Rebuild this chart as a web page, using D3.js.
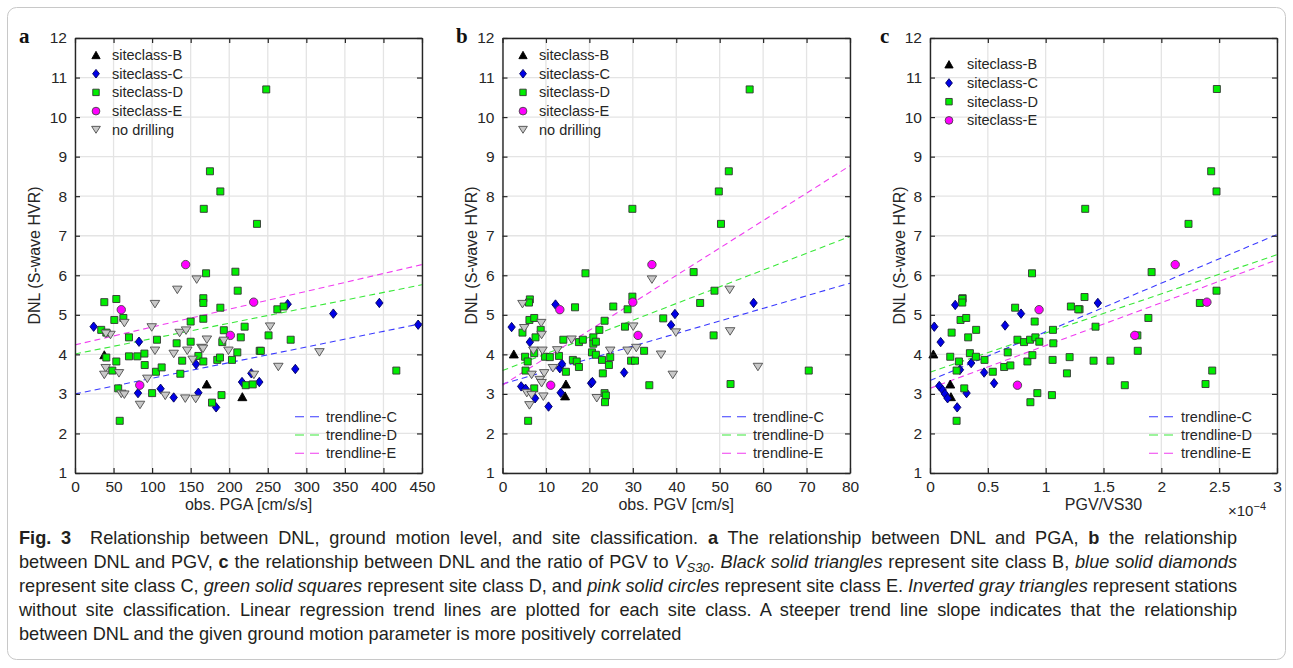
<!DOCTYPE html>
<html><head><meta charset="utf-8">
<script src="https://cdn.jsdelivr.net/npm/d3@7"></script>
<style>body{margin:0;background:#fff} svg{display:block}</style>
</head><body><svg id="chart" width="1293" height="668"></svg>
<script>
// ---------------- DATA ----------------
const yTickValues = [1,2,3,4,5,6,7,8,9,10,11,12];
const pgaTicks = [0,50,100,150,200,250,300,350,400,450];
const pgvTicks = [0,10,20,30,40,50,60,70,80];
const ratioTicks = [0,0.5,1,1.5,2,2.5,3];   // x 1e-4

const legendLabels = ["siteclass-B","siteclass-C","siteclass-D","siteclass-E","no drilling"];
const trendLabels = ["trendline-C","trendline-D","trendline-E"];

// panel a : PGA [cm/s/s] vs DNL
const pgaB = [[38,3.99],[170.8,3.25],[217,2.93]];
const pgaC = [[24.2,4.70],[83,4.32],[81.7,3.02],[111,3.13],[128,2.91],[157,3.75],[160,3.03],[183,2.66],[216.6,3.30],[228.7,3.52],[239,3.30],[275.8,5.27],[285.7,3.63],[335,5.03],[394.7,5.30],[445,4.75]];
const pgaD = [[248,10.7],[175,8.63],[188.5,8.12],[167,7.68],[236,7.30],[170,6.05],[208,6.09],[211,5.61],[38,5.32],[53.6,5.40],[51,4.87],[62.7,4.92],[34,4.62],[40.6,4.55],[70,4.43],[40.6,3.92],[53.6,3.82],[48.4,3.59],[56,3.14],[58,2.32],[70,3.95],[80.8,3.95],[90,4.02],[90.4,3.73],[106.3,4.37],[100,3.02],[105,3.56],[112.4,3.67],[131.8,4.28],[136.6,3.51],[139,3.84],[150,4.83],[150,4.32],[160,3.96],[166.4,3.82],[166.4,5.42],[166.4,5.30],[166.4,4.90],[177.7,2.78],[190,2.97],[188.5,5.18],[193,4.61],[191,4.31],[184.5,3.86],[188,3.92],[210.5,4.05],[203.6,3.86],[215,4.43],[220,4.70],[239.5,4.09],[221.4,3.22],[230.5,3.24],[262.4,5.14],[270.6,5.21],[251,4.48],[279.7,4.37],[241,4.09],[416.7,3.59]];
const pgaE = [[143.5,6.27],[60,5.13],[84,3.22],[201.5,4.48],[231.7,5.32]];
const pgaN = [[157.8,5.89],[132.7,5.63],[64,4.79],[46,4.49],[40,4.52],[39.8,3.65],[38,3.48],[57,3.52],[60,3.0],[64,2.98],[103.7,4.09],[103.7,5.27],[99.5,4.68],[84.3,2.72],[93.8,3.38],[117,2.95],[143,2.88],[128,4.01],[135.7,4.54],[144,4.60],[145.6,4.09],[152.6,3.86],[164,4.16],[166,4.14],[171,4.37],[156.5,2.87],[193,4.34],[199,4.09],[232,3.48],[253,4.70],[317,4.05],[263.7,3.68]];
const pgaTrendC = [3.00,4.78];   // DNL at PGA = 0 and 450
const pgaTrendD = [4.01,5.76];
const pgaTrendE = [4.24,6.27];

// panel b : PGV [cm/s] vs DNL
const pgvB = [[2.6,4.01],[14.6,3.25],[14.4,2.95]];
const pgvC = [[2.1,4.69],[6.3,4.31],[12.2,5.26],[4.3,3.19],[5.3,3.13],[7.5,2.89],[10.6,2.68],[13.2,3.65],[13.7,3.76],[13.4,3.03],[20.4,3.27],[20.7,3.30],[28,3.54],[38.8,4.74],[39.7,5.02],[57.8,5.30]];
const pgvD = [[29.9,7.68],[19.1,6.05],[6.3,5.39],[29.9,5.46],[56.9,10.70],[52.1,8.63],[49.8,8.12],[50.3,7.30],[44,6.08],[48.8,5.61],[45.5,5.30],[48.6,4.48],[70.5,3.59],[52.5,3.25],[6.1,5.31],[16.7,5.19],[6.2,4.87],[7.3,4.92],[4.6,4.55],[8.8,4.62],[7.6,4.43],[7.3,4.03],[5.2,3.94],[5.8,3.82],[5.3,3.59],[9.8,3.94],[10.9,3.93],[7.3,3.14],[5.9,2.32],[13,3.96],[14.6,3.56],[14,4.37],[16.2,3.86],[17.1,3.82],[17.6,3.68],[17.6,4.31],[18.5,4.37],[20.6,4.05],[20.9,4.43],[20.9,4.27],[21.5,4.32],[21.5,3.99],[22.3,4.62],[23.5,4.85],[22.9,3.86],[23.1,3.52],[24.5,3.73],[24.8,3.93],[23.5,3.02],[23.8,2.96],[23.6,2.79],[25.5,5.21],[28.8,5.14],[28.2,4.70],[29.6,3.84],[30.5,3.84],[32.6,4.09],[33.8,3.22],[37,4.91]];
const pgvE = [[34.4,6.27],[13.2,5.13],[11.1,3.22],[31.2,4.48],[30,5.32]];
const pgvN = [[34.4,5.89],[52.3,5.63],[4.6,5.27],[8.9,4.79],[5,4.66],[9,4.49],[7.1,4.09],[9.2,4.09],[6.7,3.48],[9.6,3.52],[8.6,3.35],[9,3.27],[5.6,3.02],[6.7,2.97],[6.2,2.71],[9.4,2.93],[11.6,3.65],[12.6,4.1],[15.9,4.37],[21.7,2.89],[24.8,4.09],[30.1,4.70],[28.8,4.09],[30.8,4.16],[36.5,3.99],[39.2,3.48],[39.9,4.55],[52.4,4.58],[58.8,3.68]];
const pgvTrendC = [3.25,5.80];   // DNL at PGV = 0 and 80
const pgvTrendD = [3.59,6.98];
const pgvTrendE = [3.22,8.77];

// panel c : PGV/VS30 (x 1e-4) vs DNL
const ratioB = [[0.029,4.01],[0.175,3.25],[0.181,2.93]];
const ratioC = [[0.037,4.70],[0.092,4.31],[0.218,5.25],[0.259,3.61],[0.356,3.78],[0.468,3.54],[0.554,3.27],[0.080,3.20],[0.109,3.10],[0.129,3.00],[0.152,2.89],[0.235,2.66],[0.316,3.02],[0.649,4.73],[0.787,5.03],[1.451,5.30]];
const ratioD = [[1.342,7.68],[0.882,6.05],[0.282,5.42],[1.336,5.45],[2.48,10.71],[2.431,8.63],[2.477,8.12],[2.235,7.30],[1.916,6.08],[2.477,5.61],[2.333,5.30],[1.293,5.14],[1.888,4.92],[1.431,4.70],[1.793,4.48],[1.796,4.09],[1.414,3.84],[1.560,3.84],[1.684,3.22],[2.44,3.59],[2.382,3.25],[0.279,5.40],[0.279,5.31],[0.264,4.87],[0.313,4.92],[0.187,4.55],[0.330,4.43],[0.399,4.62],[0.175,3.94],[0.250,3.82],[0.230,3.59],[0.345,4.03],[0.397,3.94],[0.471,3.86],[0.543,3.56],[0.296,3.14],[0.230,2.32],[0.736,5.18],[0.672,4.05],[0.641,3.68],[0.695,3.72],[0.756,4.37],[0.813,4.31],[0.865,4.37],[0.911,4.43],[0.945,4.32],[0.905,4.83],[0.842,3.82],[0.885,3.98],[0.868,2.79],[0.928,3.02],[1.054,2.97],[1.063,4.62],[1.066,4.28],[1.060,3.86],[1.207,3.93],[1.184,3.52],[1.218,5.21],[1.282,5.14]];
const ratioE = [[2.12,6.27],[0.943,5.13],[0.756,3.22],[1.77,4.48],[2.394,5.32]];
const ratioN = [];
const ratioTrendC = [3.34,7.03];  // DNL at ratio = 0 and 3e-4
const ratioTrendD = [3.55,6.52];
const ratioTrendE = [3.14,6.39];

// ---------------- LAYOUT ----------------
const svg = d3.select("#chart");
const FONT = "'Liberation Sans', Arial, sans-serif";
const AX = "#262626";

svg.append("rect").attr("x",7.5).attr("y",7.5).attr("width",1278).attr("height",652)
  .attr("rx",9).attr("fill","none").attr("stroke","#c8c8c8").attr("stroke-width",1);

const styles = {
  B:{fill:"#000000",stroke:"#000000"},
  C:{fill:"#0000e6",stroke:"#00005a"},
  D:{fill:"#00ee00",stroke:"#333333"},
  E:{fill:"#ff00ff",stroke:"#444444"},
  N:{fill:"#c8c8c8",stroke:"#4d4d4d"}
};
function shape(t, k=1){
  if(t==="B"){const w=9*k,h=8*k;return `M0,${-h/2}L${w/2},${h/2}L${-w/2},${h/2}Z`;}
  if(t==="C"){const w=7.4*k,h=9.4*k;return `M0,${-h/2}L${w/2},0L0,${h/2}L${-w/2},0Z`;}
  if(t==="D"){const s=7*k;return `M${-s/2},${-s/2}h${s}v${s}h${-s}Z`;}
  if(t==="E"){const r=4.2*k;return `M${r},0A${r},${r} 0 1 1 ${-r},0A${r},${r} 0 1 1 ${r},0Z`;}
  if(t==="N"){const w=9.5*k,h=7.5*k;return `M${-w/2},${-h/2}L${w/2},${-h/2}L0,${h/2}Z`;}
}
const trendColors = {C:"#3a3aff",D:"#3ae83a",E:"#f03cf0"};

const panels = [
  {letter:"a", lx:19, x0:75, x1:422, domain:[0,450], ticks:pgaTicks, xlabel:"obs. PGA [cm/s/s]",
   data:{B:pgaB,C:pgaC,D:pgaD,E:pgaE,N:pgaN}, trends:{C:pgaTrendC,D:pgaTrendD,E:pgaTrendE},
   legend:["B","C","D","E","N"], lgMx:96, lgTx:112, lgY:55, tlX0:295, tlX1:319, tlTx:326, ylabX:40},
  {letter:"b", lx:456, x0:502.5, x1:850, domain:[0,80], ticks:pgvTicks, xlabel:"obs. PGV [cm/s]",
   data:{B:pgvB,C:pgvC,D:pgvD,E:pgvE,N:pgvN}, trends:{C:pgvTrendC,D:pgvTrendD,E:pgvTrendE},
   legend:["B","C","D","E","N"], lgMx:523, lgTx:539, lgY:55, tlX0:722, tlX1:747, tlTx:753, ylabX:477},
  {letter:"c", lx:880, x0:930, x1:1277, domain:[0,3], ticks:ratioTicks, xlabel:"PGV/VS30",
   data:{B:ratioB,C:ratioC,D:ratioD,E:ratioE,N:ratioN}, trends:{C:ratioTrendC,D:ratioTrendD,E:ratioTrendE},
   legend:["B","C","D","E"], lgMx:949, lgTx:967, lgY:64.3, tlX0:1149, tlX1:1173, tlTx:1181, ylabX:905, exp:true}
];
const yTop = 38, yBot = 473;
const labelIndex = {B:0,C:1,D:2,E:3,N:4};

panels.forEach(p=>{
  const x = d3.scaleLinear().domain(p.domain).range([p.x0,p.x1]);
  const y = d3.scaleLinear().domain([1,12]).range([yBot,yTop]);
  const g = svg.append("g");

  g.selectAll(".gx").data(p.ticks).join("line")
    .attr("x1",d=>x(d)).attr("x2",d=>x(d)).attr("y1",yTop).attr("y2",yBot)
    .attr("stroke","#e4e4e4").attr("stroke-width",1.3);
  g.selectAll(".gy").data(yTickValues).join("line")
    .attr("x1",p.x0).attr("x2",p.x1).attr("y1",d=>y(d)).attr("y2",d=>y(d))
    .attr("stroke","#e4e4e4").attr("stroke-width",1.3);

  ["C","D","E"].forEach(k=>{
    const t = p.trends[k];
    g.append("line").attr("x1",x(p.domain[0])).attr("y1",y(t[0]))
      .attr("x2",x(p.domain[1])).attr("y2",y(t[1]))
      .attr("stroke",trendColors[k]).attr("stroke-width",1.1).attr("stroke-dasharray","6,4");
  });

  ["B","C","D","E","N"].forEach(k=>{
    g.selectAll(null).data(p.data[k]).join("path")
      .attr("d",shape(k)).attr("transform",d=>`translate(${x(d[0])},${y(d[1])})`)
      .attr("fill",styles[k].fill).attr("stroke",styles[k].stroke).attr("stroke-width",0.9);
  });

  const fmt = d=>String(d);
  const ax = g.append("g").attr("transform",`translate(0,${yBot})`)
    .call(d3.axisBottom(x).tickValues(p.ticks).tickFormat(fmt).tickSizeInner(-5).tickSizeOuter(0).tickPadding(8));
  const axT = g.append("g").attr("transform",`translate(0,${yTop})`)
    .call(d3.axisTop(x).tickValues(p.ticks).tickFormat("").tickSizeInner(-5).tickSizeOuter(0));
  const ay = g.append("g").attr("transform",`translate(${p.x0},0)`)
    .call(d3.axisLeft(y).tickValues(yTickValues).tickFormat(fmt).tickSizeInner(-5).tickSizeOuter(0).tickPadding(8));
  const ayR = g.append("g").attr("transform",`translate(${p.x1},0)`)
    .call(d3.axisRight(y).tickValues(yTickValues).tickFormat("").tickSizeInner(-5).tickSizeOuter(0));
  [ax,axT,ay,ayR].forEach(a=>{
    a.selectAll(".domain").attr("stroke",AX).attr("stroke-width",1.4);
    a.selectAll(".tick line").attr("stroke",AX).attr("stroke-width",1.2);
    a.selectAll("text").attr("fill",AX).style("font-family",FONT).style("font-size","15.5px");
  });

  g.append("text").attr("x",(p.x0+p.x1)/2).attr("y",510).attr("text-anchor","middle")
    .style("font-family",FONT).style("font-size","16px").attr("fill",AX).text(p.xlabel);
  g.append("text").attr("transform",`translate(${p.ylabX},${(yTop+yBot)/2}) rotate(-90)`)
    .attr("text-anchor","middle").style("font-family",FONT).style("font-size","16px").attr("fill",AX)
    .text("DNL (S-wave HVR)");

  if(p.exp){
    const et = g.append("text").attr("x",1228).attr("y",516).style("font-family",FONT)
      .style("font-size","15px").attr("fill",AX);
    et.append("tspan").text("\u00d710");
    et.append("tspan").attr("dy",-6).style("font-size","11px").text("\u22124");
  }

  svg.append("text").attr("x",p.lx).attr("y",43)
    .style("font-family","'Liberation Serif','Times New Roman',serif").style("font-weight","bold")
    .style("font-size","21px").attr("fill","#111").text(p.letter);

  p.legend.forEach((k,i)=>{
    const yy = p.lgY + i*18.7;
    g.append("path").attr("d",shape(k,0.92)).attr("transform",`translate(${p.lgMx},${yy})`)
      .attr("fill",styles[k].fill).attr("stroke",styles[k].stroke).attr("stroke-width",0.9);
    g.append("text").attr("x",p.lgTx).attr("y",yy).attr("dy","0.35em")
      .style("font-family",FONT).style("font-size","14.5px").attr("fill",AX)
      .text(legendLabels[labelIndex[k]]);
  });
  ["C","D","E"].forEach((k,i)=>{
    const yy = 416.7 + i*18.3;
    g.append("line").attr("x1",p.tlX0).attr("x2",p.tlX1).attr("y1",yy).attr("y2",yy)
      .attr("stroke",trendColors[k]).attr("stroke-width",1.1).attr("stroke-dasharray","9,6");
    g.append("text").attr("x",p.tlTx).attr("y",yy).attr("dy","0.35em")
      .style("font-family",FONT).style("font-size","14.5px").attr("fill",AX).text(trendLabels[i]);
  });
});

// ---------------- CAPTION ----------------
const capLines = [
  [["b","Fig. 3"],["n","\u2002 Relationship between DNL, ground motion level, and site classification. "],["b","a"],["n"," The relationship between DNL and PGA, "],["b","b"],["n"," the relationship"]],
  [["n","between DNL and PGV, "],["b","c"],["n"," the relationship between DNL and the ratio of PGV to "],["i","V"],["s","S30"],["n",". "],["i","Black solid triangles"],["n"," represent site class B, "],["i","blue solid diamonds"]],
  [["n","represent site class C, "],["i","green solid squares"],["n"," represent site class D, and "],["i","pink solid circles"],["n"," represent site class E. "],["i","Inverted gray triangles"],["n"," represent stations"]],
  [["n","without site classification. Linear regression trend lines are plotted for each site class. A steeper trend line slope indicates that the relationship"]],
  [["n","between DNL and the given ground motion parameter is more positively correlated"]]
];
const capFont = "'Liberation Sans', Arial, sans-serif";
const capG = svg.append("g");
function drawCaption(size){
  capG.selectAll("*").remove();
  return capLines.map((segs,li)=>{
    const t = capG.append("text").attr("x",19).attr("y",543.5+li*24)
      .style("font-family",capFont).style("font-size",size+"px").attr("fill","#231f20");
    let prev = null;
    segs.forEach(([st,str])=>{
      const ts = t.append("tspan").text(str);
      if(st==="b") ts.style("font-weight","bold");
      if(st==="i") ts.style("font-style","italic");
      if(st==="s"){ ts.style("font-style","italic").style("font-size",(size*0.72)+"px").attr("dy",4); }
      if(prev==="s") ts.attr("dy",-4);
      prev = st;
    });
    return t;
  });
}
let texts = drawCaption(16);
const w2 = texts[1].node().getComputedTextLength();
const capSize = 16 * 1200 / w2;
texts = drawCaption(capSize);
const rightEdge = 1237;
texts.forEach((t,i)=>{
  if(i>3) return;
  const w = t.node().getComputedTextLength();
  const nSpaces = capLines[i].map(s=>s[1]).join("").split(" ").length - 1;
  const ws = Math.max(0,(rightEdge - 19 - w)/nSpaces);
  t.style("word-spacing", ws+"px");
});
</script>
</body></html>
